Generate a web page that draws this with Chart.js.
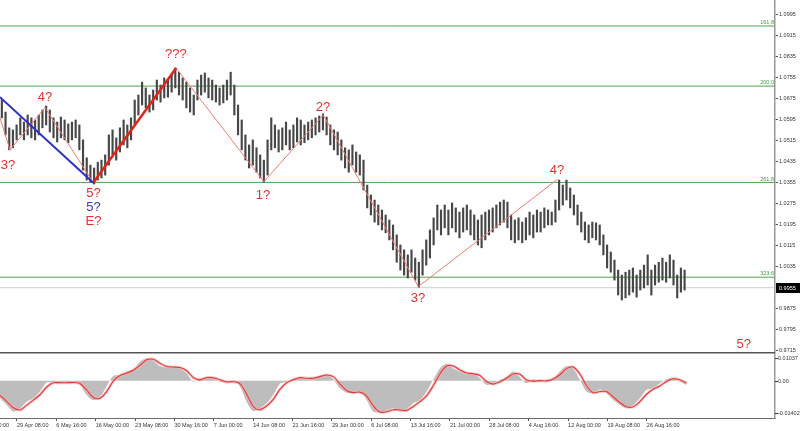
<!DOCTYPE html>
<html><head><meta charset="utf-8">
<script src="https://cdn.jsdelivr.net/npm/chart.js@4.4.1/dist/chart.umd.min.js"></script>
<style>
html,body{margin:0;padding:0;background:#fff;}
#wrap{position:relative;width:800px;height:431px;overflow:hidden;background:#fff}
#main{position:absolute;left:0;top:0;width:800px;height:431px}
#macd{position:absolute;left:0;top:352px;width:800px;height:79px}
</style></head><body>
<div id="wrap">
<canvas id="main" width="800" height="431"></canvas>
<canvas id="macd" width="800" height="79"></canvas>
</div>
<script>
// ---------- DATA ----------
// price bars: one sample per 3 H4 bars, starting at bar 1.5
const barStart = 1.5, barStep = 3;
const highs = [
1.0670,1.0624,1.0564,1.0556,1.0575,1.0602,1.0586,1.0613,1.0602,1.0594,
1.0613,1.0632,1.0647,1.0632,1.0602,1.0586,1.0605,1.0594,1.0579,1.0586,
1.0594,1.0575,1.0518,1.0450,1.0422,1.0411,1.0433,1.0441,1.0461,1.0537,
1.0556,1.0526,1.0564,1.0594,1.0575,1.0602,1.0670,1.0689,1.0738,1.0716,
1.0689,1.0708,1.0746,1.0727,1.0754,1.0746,1.0769,1.0792,1.0776,1.0754,
1.0738,1.0716,1.0689,1.0746,1.0765,1.0773,1.0754,1.0746,1.0727,1.0716,
1.0727,1.0746,1.0776,1.0727,1.0651,1.0594,1.0537,1.0499,1.0518,1.0488,
1.0461,1.0441,1.0518,1.0602,1.0575,1.0556,1.0564,1.0586,1.0556,1.0575,
1.0602,1.0594,1.0575,1.0586,1.0594,1.0602,1.0609,1.0617,1.0605,1.0575,
1.0556,1.0548,1.0518,1.0488,1.0480,1.0499,1.0472,1.0461,1.0441,1.0346,
1.0308,1.0289,1.0270,1.0251,1.0232,1.0213,1.0194,1.0156,1.0118,1.0099,
1.0080,1.0099,1.0068,1.0052,1.0099,1.0137,1.0175,1.0221,1.0270,1.0251,
1.0270,1.0251,1.0278,1.0259,1.0243,1.0259,1.0270,1.0251,1.0232,1.0213,
1.0232,1.0243,1.0251,1.0259,1.0270,1.0281,1.0289,1.0281,1.0232,1.0213,
1.0221,1.0205,1.0221,1.0243,1.0232,1.0251,1.0243,1.0259,1.0251,1.0243,
1.0289,1.0365,1.0346,1.0365,1.0335,1.0308,1.0270,1.0243,1.0205,1.0194,
1.0205,1.0202,1.0194,1.0156,1.0118,1.0091,1.0060,1.0022,1.0003,1.0014,
1.0022,1.0030,1.0003,1.0022,1.0041,1.0080,1.0022,1.0041,1.0052,1.0068,
1.0052,1.0080,1.0060,1.0003,1.0030,1.0022];
const lows = [
1.0602,1.0537,1.0480,1.0488,1.0518,1.0537,1.0518,1.0537,1.0526,1.0518,
1.0537,1.0564,1.0575,1.0548,1.0526,1.0510,1.0526,1.0518,1.0507,1.0518,
1.0526,1.0480,1.0403,1.0365,1.0357,1.0350,1.0365,1.0373,1.0384,1.0422,
1.0461,1.0441,1.0472,1.0499,1.0488,1.0518,1.0575,1.0613,1.0651,1.0640,
1.0624,1.0632,1.0670,1.0662,1.0678,1.0681,1.0700,1.0716,1.0689,1.0670,
1.0640,1.0624,1.0613,1.0670,1.0689,1.0700,1.0678,1.0670,1.0662,1.0651,
1.0659,1.0670,1.0689,1.0613,1.0537,1.0480,1.0441,1.0411,1.0422,1.0395,
1.0373,1.0357,1.0384,1.0480,1.0488,1.0472,1.0480,1.0499,1.0480,1.0488,
1.0510,1.0499,1.0507,1.0518,1.0526,1.0537,1.0548,1.0556,1.0537,1.0499,
1.0480,1.0461,1.0441,1.0411,1.0395,1.0422,1.0395,1.0384,1.0327,1.0259,
1.0232,1.0205,1.0194,1.0175,1.0164,1.0137,1.0099,1.0052,1.0022,1.0003,
0.9992,1.0014,0.9984,0.9957,1.0003,1.0041,1.0068,1.0118,1.0175,1.0156,
1.0183,1.0156,1.0183,1.0167,1.0145,1.0167,1.0175,1.0156,1.0137,1.0118,
1.0107,1.0137,1.0156,1.0167,1.0183,1.0194,1.0205,1.0183,1.0137,1.0126,
1.0137,1.0126,1.0137,1.0156,1.0145,1.0167,1.0167,1.0183,1.0194,1.0194,
1.0205,1.0251,1.0270,1.0289,1.0259,1.0232,1.0194,1.0167,1.0137,1.0126,
1.0145,1.0137,1.0118,1.0080,1.0030,1.0014,0.9984,0.9927,0.9908,0.9916,
0.9927,0.9938,0.9919,0.9946,0.9954,0.9965,0.9927,0.9965,0.9976,0.9984,
0.9976,0.9992,0.9965,0.9916,0.9938,0.9946];

const currentPrice = 0.9955;
const priceTicks = [0.9715,0.9795,0.9875,0.9955,1.0035,1.0115,1.0195,1.0275,1.0355,1.0435,1.0515,1.0595,1.0675,1.0755,1.0835,1.0915,1.0995];
const fibNames = ['161.8','200.0','261.8','323.6'];
const fibLevels = [1.0952,1.0723,1.0356,0.9995];

// wave lines (bar index, price)
const blueWaveBars = [0, 75.8];
const blueWavePrices = [1.0681, 1.0355];
const thinLeftBars = [0, 8.1, 36.6, 75.8];
const thinLeftPrices = [1.0602, 1.0480, 1.0641, 1.0355];
const thickWaveBars = [75.8, 143.2];
const thickWavePrices = [1.0355, 1.0792];
const thinRightBars = [143.2, 214.5, 262.8, 340, 453.2];
const thinRightPrices = [1.0792, 1.0359, 1.0613, 0.9959, 1.0368];

const waveLabelText = ['3?','4?','5?','5?','E?','???','1?','2?','3?','4?','5?'];
const waveLabelBar = [6.5, 36.6, 76, 76, 76, 143, 213.7, 262.5, 339.7, 452.7, 604.6];
const waveLabelPrice = [1.0422, 1.0681, 1.0316, 1.0262, 1.0209, 1.0845, 1.0308, 1.0643, 0.9916, 1.0400, 0.9740];
const waveLabelBlue = [false,false,false,true,false,false,false,false,false,false,false];

// time axis
const tickBars = [-18.2,13.8,45.8,77.8,109.8,141.8,173.8,205.8,237.8,269.8,301.8,333.8,365.8,397.8,429.8,461.8,493.8,525.8];
const tickLabels = ['22 Apr 00:00','29 Apr 08:00','6 May 16:00','16 May 00:00','23 May 08:00','30 May 16:00','7 Jun 00:00','14 Jun 08:00','21 Jun 16:00','29 Jun 00:00','6 Jul 08:00','13 Jul 16:00','21 Jul 00:00','28 Jul 08:00','4 Aug 16:00','12 Aug 00:00','19 Aug 08:00','26 Aug 16:00'];

// MACD pane (one sample per 5.418 bars)
const macdStep = 5.418;
const macdHist = [
-0.0066,-0.0091,-0.0116,-0.0104,-0.0079,-0.0066,-0.0041,-0.0007,-0.0006,-0.0010,
-0.0007,-0.0006,-0.0016,-0.0054,-0.0073,-0.0060,-0.0022,0.0018,0.0021,0.0034,
0.0043,0.0071,0.0084,0.0075,0.0055,0.0050,0.0053,0.0046,0.0028,-0.0004,
0.0009,0.0013,0.0009,-0.0004,-0.0007,0.0000,-0.0022,-0.0079,-0.0114,-0.0104,
-0.0085,-0.0054,-0.0012,-0.0004,0.0009,0.0013,0.0005,0.0013,0.0018,0.0024,
0.0005,-0.0029,-0.0045,-0.0045,-0.0041,-0.0073,-0.0116,-0.0120,-0.0113,-0.0104,
-0.0116,-0.0108,-0.0085,-0.0073,-0.0041,0.0003,0.0046,0.0063,0.0046,0.0034,
0.0024,0.0028,0.0009,-0.0016,-0.0010,0.0003,0.0015,0.0034,0.0013,-0.0010,
0.0005,-0.0004,0.0003,0.0009,0.0034,0.0055,0.0046,0.0003,-0.0041,-0.0048,
-0.0033,-0.0048,-0.0073,-0.0091,-0.0104,-0.0091,-0.0066,-0.0035,-0.0029,-0.0010,
0.0005,0.0009,-0.0004,-0.0016];
const macdSignal = [
-0.0055,-0.0078,-0.0102,-0.0110,-0.0092,-0.0073,-0.0053,-0.0024,-0.0008,-0.0008,
-0.0008,-0.0007,-0.0011,-0.0035,-0.0063,-0.0066,-0.0041,-0.0002,0.0019,0.0028,
0.0039,0.0057,0.0078,0.0080,0.0065,0.0053,0.0051,0.0049,0.0037,0.0012,
0.0003,0.0011,0.0011,0.0003,-0.0005,-0.0004,-0.0011,-0.0050,-0.0097,-0.0109,
-0.0095,-0.0070,-0.0033,-0.0008,0.0003,0.0011,0.0009,0.0009,0.0015,0.0021,
0.0015,-0.0012,-0.0037,-0.0045,-0.0043,-0.0057,-0.0095,-0.0118,-0.0117,-0.0109,
-0.0110,-0.0112,-0.0097,-0.0079,-0.0057,-0.0019,0.0025,0.0055,0.0055,0.0040,
0.0029,0.0026,0.0019,-0.0003,-0.0013,-0.0004,0.0009,0.0025,0.0024,0.0002,
-0.0002,0.0000,-0.0001,0.0006,0.0022,0.0045,0.0051,0.0025,-0.0019,-0.0045,
-0.0041,-0.0041,-0.0061,-0.0082,-0.0098,-0.0098,-0.0079,-0.0051,-0.0032,-0.0020,
-0.0003,0.0007,0.0003,-0.0010];
const macdTicks = [-0.01402, 0, 0.01037];
const macdTickText = ['-0.01402', '0.00', '0.01037'];

// ---------- CHARTS ----------
const FONT = '"Liberation Sans", Arial, sans-serif';
Chart.defaults.font.family = FONT;
const X_MIN = 0, X_MAX = 630;
const pairs = (xs, ys) => xs.map((v, i) => ({x: v, y: ys[i]}));
const fixWidth = (s) => { s.width = 25; s.paddingTop = 0; s.paddingBottom = 0; };

const mainDecor = {
  id: 'mainDecor',
  afterDraw(chart) {
    const {ctx, chartArea: a, scales: {x, y}} = chart;
    ctx.save();
    ctx.font = '5.5px ' + FONT;
    ctx.fillStyle = '#3f9a3f';
    ctx.textAlign = 'right'; ctx.textBaseline = 'bottom';
    fibLevels.forEach((v, i) => ctx.fillText(fibNames[i], a.right - 1, y.getPixelForValue(v) - 0.5));
    ctx.font = '13px ' + FONT;
    ctx.textAlign = 'center'; ctx.textBaseline = 'middle';
    waveLabelText.forEach((t, i) => {
      ctx.fillStyle = waveLabelBlue[i] ? '#3434d0' : '#e4322b';
      ctx.fillText(t, x.getPixelForValue(waveLabelBar[i]), y.getPixelForValue(waveLabelPrice[i]));
    });
    const py = Math.round(y.getPixelForValue(currentPrice));
    ctx.fillStyle = '#000';
    ctx.fillRect(a.right + 1, py - 5, 25, 10);
    ctx.fillStyle = '#fff';
    ctx.font = '5.5px ' + FONT;
    ctx.textAlign = 'left';
    ctx.fillText(currentPrice.toFixed(4), a.right + 4, py + 0.5);
    ctx.restore();
  }
};

new Chart(document.getElementById('main'), {
  type: 'bar',
  data: {
    datasets: [
      {type: 'line', data: [{x: X_MIN, y: currentPrice}, {x: X_MAX, y: currentPrice}], borderColor: '#cfcfcf', borderWidth: 1, pointRadius: 0, order: 6},
      ...fibLevels.map(v => ({type: 'line', data: [{x: X_MIN, y: v}, {x: X_MAX, y: v}], borderColor: '#4ea24e', borderWidth: 1, pointRadius: 0, order: 5})),
      {type: 'bar', data: highs.map((h, i) => ({x: barStart + i * barStep, y: [lows[i], h]})), backgroundColor: '#474747', barThickness: 1.5, order: 3},
      {type: 'line', data: pairs(thinLeftBars, thinLeftPrices), borderColor: '#f07a74', borderWidth: 1, pointRadius: 0, order: 1},
      {type: 'line', data: pairs(thinRightBars, thinRightPrices), borderColor: '#f07a74', borderWidth: 1, pointRadius: 0, order: 1},
      {type: 'line', data: pairs(blueWaveBars, blueWavePrices), borderColor: '#2e2ec8', borderWidth: 2, pointRadius: 0, order: 0},
      {type: 'line', data: pairs(thickWaveBars, thickWavePrices), borderColor: '#e2231a', borderWidth: 2.5, pointRadius: 0, order: 0}
    ]
  },
  options: {
    responsive: false, animation: false,
    layout: {padding: {left: 0, right: 0, top: 0, bottom: 79}, autoPadding: false},
    plugins: {legend: {display: false}, tooltip: {enabled: false}},
    scales: {
      x: {type: 'linear', min: X_MIN, max: X_MAX, offset: false, display: false},
      y: {
        type: 'linear', position: 'right', min: 0.9710, max: 1.1051,
        afterBuildTicks: s => { s.ticks = priceTicks.map(v => ({value: v})); },
        afterFit: fixWidth,
        grid: {drawOnChartArea: false, tickLength: 3, color: '#555'},
        border: {color: '#9a9a9a', width: 1.5},
        ticks: {font: {size: 5.5}, color: '#333', padding: 1, callback: v => v.toFixed(4)}
      }
    }
  },
  plugins: [mainDecor]
});

const macdDecor = {
  id: 'macdDecor',
  afterDraw(chart) {
    const {ctx, chartArea: a, scales: {y}} = chart;
    ctx.save();
    ctx.fillStyle = '#555';
    ctx.fillRect(0, 0, a.right, 1.5);
    ctx.font = '5.5px ' + FONT;
    ctx.fillStyle = '#333';
    ctx.textAlign = 'left'; ctx.textBaseline = 'middle';
    macdTicks.forEach((v, i) => {
      let py = y.getPixelForValue(v);
      py = Math.min(Math.max(py, a.top + 5), a.bottom - 5);
      ctx.fillRect(a.right, Math.round(py), 3, 1);
      ctx.fillText(macdTickText[i], a.right + 3, py + 0.5);
    });
    ctx.restore();
  }
};

new Chart(document.getElementById('macd'), {
  type: 'line',
  data: {
    datasets: [
      {data: macdHist.map((v, i) => ({x: i * macdStep, y: v})), borderWidth: 0, borderColor: 'rgba(0,0,0,0)', backgroundColor: '#bdbdbd', fill: 'origin', pointRadius: 0, tension: 0.3, order: 3},
      {data: macdSignal.map((v, i) => ({x: i * macdStep, y: v})), borderColor: 'rgba(245,175,175,0.7)', borderWidth: 3, pointRadius: 0, tension: 0.3, fill: false, order: 2},
      {data: macdSignal.map((v, i) => ({x: i * macdStep, y: v})), borderColor: '#e03a3a', borderWidth: 1.1, pointRadius: 0, tension: 0.3, fill: false, order: 1}
    ]
  },
  options: {
    responsive: false, animation: false,
    layout: {padding: {left: 0, right: 0, top: 1, bottom: 0}, autoPadding: false},
    plugins: {legend: {display: false}, tooltip: {enabled: false}},
    scales: {
      x: {
        type: 'linear', min: X_MIN, max: X_MAX, offset: false,
        afterBuildTicks: s => { s.ticks = tickBars.map(v => ({value: v})); },
        afterFit: s => { s.height = 13; s.paddingLeft = 0; s.paddingRight = 0; },
        grid: {drawOnChartArea: false, tickLength: 3, color: '#555'},
        border: {color: '#6a6a6a', width: 1},
        ticks: {font: {size: 5.5}, color: '#333', padding: 1, align: 'start', maxRotation: 0, minRotation: 0, autoSkip: false,
          callback: (v, i) => tickLabels[i]}
      },
      y: {
        type: 'linear', position: 'right', min: -0.01402, max: 0.01037,
        afterFit: fixWidth,
        grid: {display: false},
        border: {color: '#9a9a9a', width: 1.5},
        ticks: {display: false}
      }
    }
  },
  plugins: [macdDecor]
});
</script>
</body></html>
